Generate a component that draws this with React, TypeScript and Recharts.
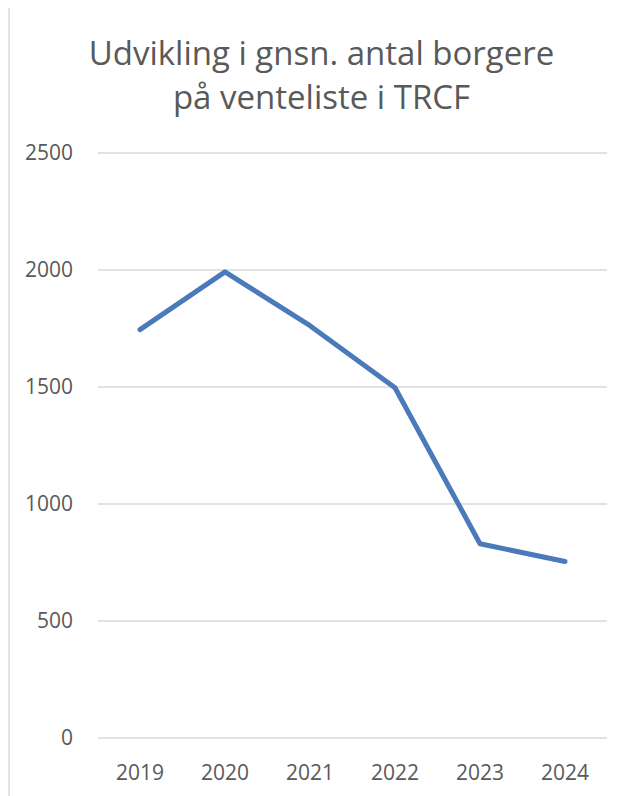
import { LineChart, Line, XAxis, YAxis, CartesianGrid } from "recharts";

const years = ["2019", "2020", "2021", "2022", "2023", "2024"];
const waiting = [1745, 1992, 1762, 1497, 830, 754];
const yTicks = [0, 500, 1000, 1500, 2000, 2500];

const data = years.map((year, i) => ({ year, waiting: waiting[i] }));

const FONT = "'Open Sans', 'Liberation Sans', sans-serif";
const TEXT = "#595959";

const App = () => {
  return (
    <div style={{ position: "absolute", left: 0, top: 0, width: 628, height: 796, background: "#fff" }}>
      <div style={{ position: "absolute", left: 8, top: 8, width: 2, height: 788, background: "#e4e4e4" }} />
      <div
        style={{
          position: "absolute",
          left: 0,
          top: 31,
          width: 643,
          textAlign: "center",
          fontFamily: FONT,
          fontSize: 33,
          lineHeight: "44px",
          color: TEXT,
        }}
      >
        Udvikling i gnsn. antal borgere
        <br />
        på venteliste i TRCF
      </div>
      <LineChart width={628} height={796} data={data} margin={{ top: 153, right: 21, left: 8, bottom: 0 }}>
        <CartesianGrid vertical={false} stroke="#d9d9d9" strokeWidth={1.5} />
        <XAxis
          dataKey="year"
          axisLine={false}
          tickLine={false}
          height={58}
          tickMargin={21}
          padding={{ left: 42, right: 42 }}
          tick={{ fontSize: 21, fill: TEXT, fontFamily: FONT }}
        />
        <YAxis
          domain={[0, 2500]}
          ticks={yTicks}
          axisLine={false}
          tickLine={false}
          width={90}
          tickMargin={19}
          tick={{ fontSize: 21, fill: TEXT, fontFamily: FONT }}
        />
        <Line
          type="linear"
          dataKey="waiting"
          stroke="#4a7aba"
          strokeWidth={5}
          dot={false}
          strokeLinecap="round"
          strokeLinejoin="round"
          isAnimationActive={false}
        />
      </LineChart>
    </div>
  );
};

export default App;
